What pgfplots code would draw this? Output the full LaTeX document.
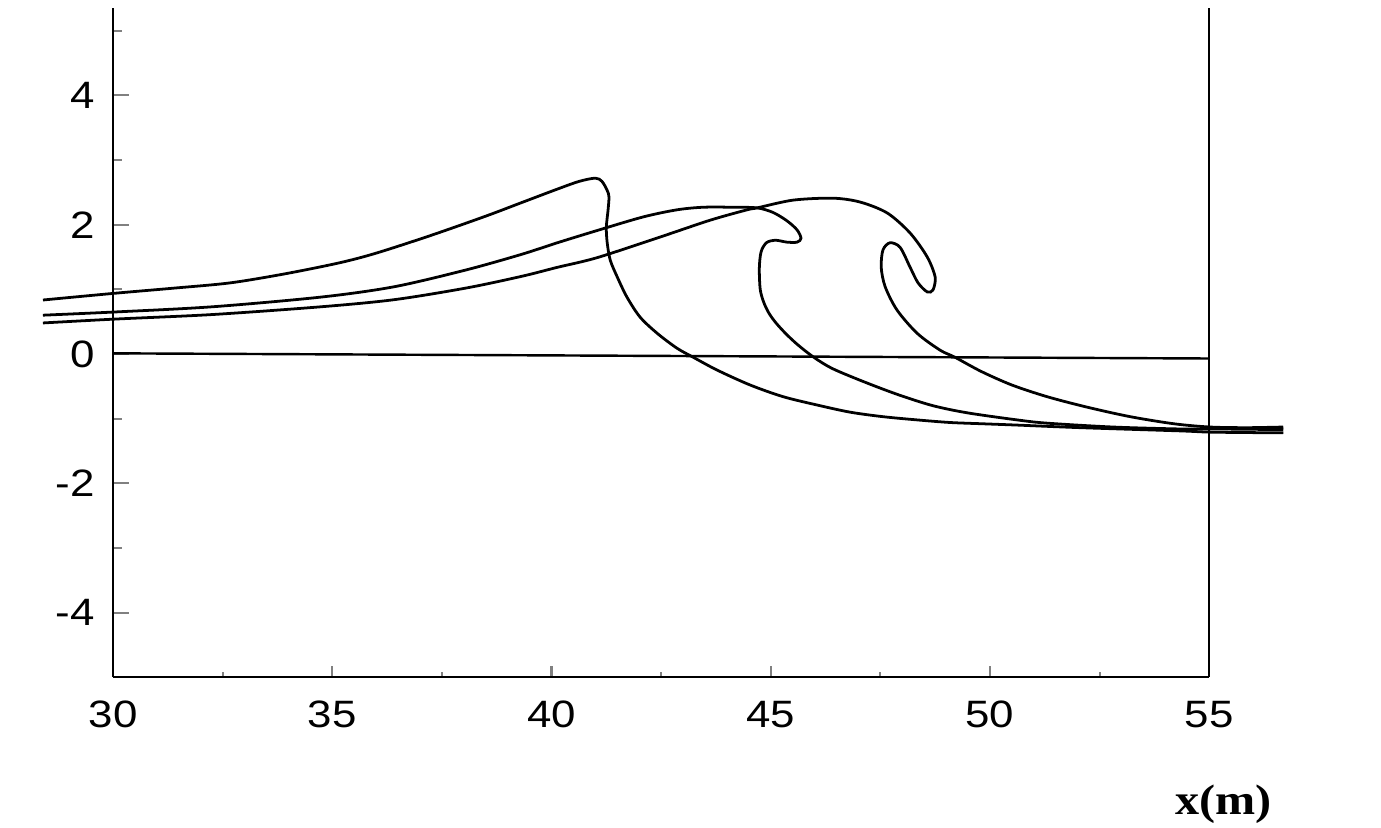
\documentclass[border=0pt]{standalone}
\usepackage{fontspec}
\usepackage{pgfplots}
\pgfplotsset{compat=1.18}
\newfontfamily\ticksf{Liberation Sans}[FakeStretch=1.15]
\newfontfamily\labsf{Liberation Serif}[FakeStretch=1.13]
\begin{document}
\begin{tikzpicture}
\begin{axis}[
  scale only axis,
  width=11.111cm, height=6.782cm,
  xmin=30, xmax=55, ymin=-5, ymax=5.35,
  clip=false,
  axis x line*=bottom, axis y line*=box,
  ytick pos=left,
  xtick={30,35,40,45,50,55},
  minor xtick={32.5,37.5,42.5,47.5,52.5},
  ytick={-4,-2,0,2,4},
  minor ytick={-3,-1,1,3,5},
  tick align=inside,
  xtick style={/pgfplots/major tick length=0.11cm,/pgfplots/minor tick length=0.05cm, line width=0.6pt},
  ytick style={/pgfplots/major tick length=0.16cm,/pgfplots/minor tick length=0.09cm, line width=0.6pt},
  axis line style={line width=0.75pt},
  /pgf/number format/assume math mode=true,
  ticklabel style={font=\ticksf\fontsize{11}{12}\selectfont},
  xticklabel style={yshift=-0.12cm},
  yticklabel style={xshift=-0.06cm},
]
% still-water line
\addplot[black, line width=0.7pt] coordinates {(30,0.01) (55,-0.07)};
% profile A
\addplot[black, line width=0.8pt, smooth, tension=0.5] coordinates {
(28.40,0.835) (30.05,0.94) (31.41,1.02) (32.67,1.10) (33.92,1.24) (35.16,1.41)
(36.00,1.56) (37.23,1.83) (38.49,2.13) (39.31,2.34) (40.13,2.55) (40.63,2.67)
(41.00,2.72) (41.15,2.67) (41.27,2.53) (41.31,2.43) (41.29,2.23) (41.25,1.96)
(41.27,1.72) (41.34,1.45) (41.50,1.19) (41.72,0.88) (42.02,0.57) (42.41,0.32)
(42.86,0.09) (43.23,-0.05) (43.78,-0.25) (44.53,-0.48) (45.28,-0.66) (46.06,-0.79)
(46.81,-0.90) (47.56,-0.97) (48.34,-1.02) (49.09,-1.06) (49.84,-1.08) (50.62,-1.10)
(52.06,-1.14) (54.34,-1.19) (55.09,-1.21) (56.69,-1.22)};
% profile B
\addplot[black, line width=0.8pt, smooth, tension=0.5] coordinates {
(28.40,0.60) (30.05,0.65) (32.26,0.73) (34.74,0.88) (36.41,1.04) (38.05,1.30)
(39.31,1.54) (40.13,1.72) (41.04,1.91) (42.09,2.12) (42.86,2.23)
(43.46,2.27) (44.14,2.27) (44.69,2.26) (45.05,2.19) (45.37,2.06) (45.60,1.92)
(45.69,1.79) (45.60,1.73) (45.37,1.73) (45.10,1.76) (44.90,1.72) (44.78,1.58)
(44.74,1.33) (44.76,1.00) (44.84,0.80) (44.96,0.63) (45.12,0.48) (45.35,0.31)
(45.62,0.14) (45.98,-0.05) (46.42,-0.23) (47.20,-0.45) (47.95,-0.64) (48.70,-0.80)
(49.48,-0.91) (50.62,-1.02) (51.30,-1.07) (52.81,-1.13) (54.34,-1.16) (55.09,-1.16) (56.69,-1.17)};
% profile C
\addplot[black, line width=0.8pt, smooth, tension=0.5] coordinates {
(28.40,0.48) (30.05,0.54) (32.26,0.61) (34.74,0.73) (36.41,0.84) (38.05,1.02)
(39.31,1.20) (40.13,1.34) (41.04,1.49) (42.48,1.81) (43.62,2.07)
(44.46,2.23) (44.69,2.26) (45.51,2.38) (46.42,2.41) (47.04,2.35) (47.66,2.18)
(48.18,1.87) (48.57,1.50) (48.75,1.19) (48.70,0.99) (48.57,0.96) (48.36,1.10)
(48.18,1.34) (47.95,1.65) (47.72,1.72) (47.56,1.61) (47.52,1.34) (47.61,1.04)
(47.88,0.68) (48.34,0.32) (48.86,0.06) (49.20,-0.05) (49.80,-0.27) (50.50,-0.48)
(51.30,-0.66) (52.20,-0.82) (53.20,-0.97) (54.20,-1.08) (55.02,-1.13)
(55.87,-1.14) (56.69,-1.13)};
\node[font=\labsf\bfseries\fontsize{12.3}{14}\selectfont] at (axis cs:55.32,-6.97) {x(m)};
\coordinate (bl) at (axis cs:27.42,-7.333);
\coordinate (tr) at (axis cs:58.92,5.476);
\end{axis}
\pgfresetboundingbox
\useasboundingbox (bl) rectangle (tr);
\end{tikzpicture}
\end{document}
